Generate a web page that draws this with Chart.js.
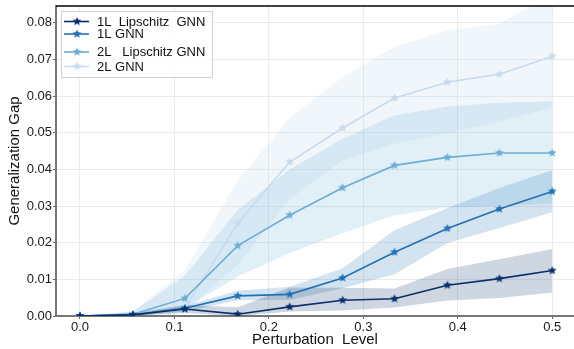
<!DOCTYPE html>
<html>
<head>
<meta charset="utf-8">
<script src="https://cdn.jsdelivr.net/npm/chart.js@4"></script>
<style>
  html, body { margin: 0; padding: 0; background: #fff; overflow: hidden; }
  #wrap { width: 574px; height: 349px; position: relative; }
  #gapChart { display: block; }
</style>
</head>
<body>
<div id="wrap"><canvas id="gapChart"></canvas></div>
<script>
// ---------- DATA ----------
const perturbation = [0, 0.056, 0.111, 0.167, 0.222, 0.278, 0.333, 0.389, 0.444, 0.5];

const xTickValues = [0, 0.1, 0.2, 0.3, 0.4, 0.5];
const xTickLabels = ["0.0", "0.1", "0.2", "0.3", "0.4", "0.5"];
const yTickValues = [0, 0.01, 0.02, 0.03, 0.04, 0.05, 0.06, 0.07, 0.08];
const yTickLabels = ["0.00", "0.01", "0.02", "0.03", "0.04", "0.05", "0.06", "0.07", "0.08"];

const seriesNames = ["1L  Lipschitz  GNN", "1L GNN", "2L   Lipschitz GNN", "2L GNN"];

// mean curves
const lip1Mean = [0, 0.0003, 0.0019, 0.0005, 0.0025, 0.0043, 0.0047, 0.0084, 0.0102, 0.0124];
const gnn1Mean = [0, 0.0003, 0.0021, 0.0055, 0.0059, 0.0104, 0.0174, 0.0239, 0.0292, 0.034];
const lip2Mean = [0, 0.0005, 0.0048, 0.0192, 0.0275, 0.035, 0.0411, 0.0433, 0.0445, 0.0445];
const gnn2Mean = [0, 0.0003, 0.002, 0.0253, 0.042, 0.0513, 0.0595, 0.0638, 0.066, 0.0709];

// shaded bands (low / high)
const lip1Low  = [0, 0, 0.0008, 0, 0.0012, 0.0015, 0.0023, 0.0042, 0.0049, 0.0064];
const lip1High = [0, 0.0008, 0.003, 0.0024, 0.0078, 0.0077, 0.0075, 0.0128, 0.0155, 0.0183];
const gnn1Low  = [0, 0, 0.0012, 0.0043, 0.0044, 0.0076, 0.0114, 0.0199, 0.024, 0.0283];
const gnn1High = [0, 0.0006, 0.0027, 0.0069, 0.008, 0.013, 0.0234, 0.0295, 0.0349, 0.0398];
const lip2Low  = [0, 0, 0.002, 0.0108, 0.0172, 0.0226, 0.0275, 0.0296, 0.03, 0.0308];
const lip2High = [0, 0.0012, 0.011, 0.029, 0.04, 0.0484, 0.0548, 0.0572, 0.0582, 0.0586];
const gnn2Low  = [0, 0, 0.0012, 0.014, 0.032, 0.0425, 0.047, 0.05, 0.053, 0.057];
const gnn2High = [0, 0.0012, 0.0125, 0.037, 0.0541, 0.0652, 0.0734, 0.078, 0.0797, 0.088];

// ---------- STYLE ----------
const colors = ["#08306b", "#2171b5", "#6baed6", "#c6dbef"];
const bandColors = [
    "rgba(8, 48, 107, 0.2)",
    "rgba(33, 113, 181, 0.2)",
    "rgba(107, 174, 214, 0.2)",
    "rgba(198, 219, 239, 0.25)"
];
const FONT = "'Liberation Sans', Arial, sans-serif";

// filled five point star as point image
function makeStar(color, r) {
    const c = document.createElement("canvas");
    const s = Math.ceil(r * 2 + 2);
    c.width = s;
    c.height = s;
    const g = c.getContext("2d");
    g.fillStyle = color;
    g.beginPath();
    for (let i = 0; i < 10; i++) {
        const rad = i % 2 === 0 ? r : r * 0.45;
        const a = -Math.PI / 2 + i * Math.PI / 5;
        const px = s / 2 + rad * Math.cos(a);
        const py = s / 2 + rad * Math.sin(a);
        if (i === 0) g.moveTo(px, py); else g.lineTo(px, py);
    }
    g.closePath();
    g.fill();
    return c;
}
const stars = colors.map(c => makeStar(c, 4.6));

const toPoints = arr => arr.map((v, i) => ({ x: perturbation[i], y: v }));

const means = [lip1Mean, gnn1Mean, lip2Mean, gnn2Mean];
const lows = [lip1Low, gnn1Low, lip2Low, gnn2Low];
const highs = [lip1High, gnn1High, lip2High, gnn2High];

// ---------- DATASETS ----------
const datasets = [];

// lines first so they sit on top of the bands
means.forEach((m, i) => {
    datasets.push({
        label: seriesNames[i],
        data: toPoints(m),
        borderColor: colors[i],
        borderWidth: 1.6,
        pointStyle: stars[i],
        pointRadius: 4,
        fill: false,
        isMain: true,
        starImg: stars[i]
    });
});

// bands: low edge, then high edge filled down to it
means.forEach((m, i) => {
    const lowIndex = datasets.length;
    datasets.push({
        label: "low" + i,
        data: toPoints(lows[i]),
        borderWidth: 0,
        pointRadius: 0,
        fill: false
    });
    datasets.push({
        label: "high" + i,
        data: toPoints(highs[i]),
        borderWidth: 0,
        pointRadius: 0,
        backgroundColor: bandColors[i],
        fill: lowIndex
    });
});

// ---------- PLUGINS ----------
const frameAndLegend = {
    id: "frameAndLegend",
    afterDraw(chart) {
        const { ctx, chartArea } = chart;
        ctx.save();

        // top frame line
        ctx.strokeStyle = "#000";
        ctx.lineWidth = 1.5;
        ctx.beginPath();
        ctx.moveTo(chartArea.left, chartArea.top);
        ctx.lineTo(chartArea.right, chartArea.top);
        ctx.stroke();

        // legend box
        const bx = chartArea.left + 5;
        const by = chartArea.top + 5;
        const bw = 151;
        const bh = 66;
        ctx.fillStyle = "rgba(255,255,255,0.85)";
        ctx.strokeStyle = "#d0d0d0";
        ctx.lineWidth = 1;
        ctx.fillRect(bx, by, bw, bh);
        ctx.strokeRect(bx + 0.5, by + 0.5, bw, bh);

        const rows = [10.5, 23, 41, 55.5];
        const mains = chart.data.datasets.filter(d => d.isMain);
        ctx.font = "13px " + FONT;
        ctx.textBaseline = "middle";
        mains.forEach((d, i) => {
            const y = by + rows[i];
            ctx.strokeStyle = d.borderColor;
            ctx.lineWidth = 1.6;
            ctx.beginPath();
            ctx.moveTo(bx + 3, y);
            ctx.lineTo(bx + 28, y);
            ctx.stroke();
            const img = d.starImg;
            ctx.drawImage(img, bx + 16 - img.width / 2, y - img.height / 2);
            ctx.fillStyle = "#111";
            ctx.fillText(d.label, bx + 36, y + 0.5);
        });

        ctx.restore();
    }
};

// ---------- CHART ----------
new Chart(document.getElementById("gapChart"), {
    type: "line",
    data: { datasets },
    plugins: [frameAndLegend],
    options: {
        responsive: true,
        maintainAspectRatio: false,
        animation: false,
        layout: {
            autoPadding: false,
            padding: { top: 6, right: 0, left: 0, bottom: 0 }
        },
        elements: { line: { tension: 0 } },
        plugins: {
            legend: { display: false },
            tooltip: { enabled: false },
            filler: { propagate: false }
        },
        scales: {
            x: {
                type: "linear",
                min: -0.0254,
                max: 0.523,
                afterBuildTicks(scale) {
                    scale.ticks = xTickValues.map(v => ({ value: v }));
                },
                afterFit(scale) {
                    scale.height = 33;
                    scale.paddingLeft = 0;
                    scale.paddingRight = 0;
                },
                grid: {
                    color: "#ebebeb",
                    lineWidth: 1,
                    tickLength: 3,
                    tickColor: "#666"
                },
                border: { color: "#777", width: 2 },
                ticks: {
                    padding: 1,
                    color: "#1a1a1a",
                    font: { family: FONT, size: 13 },
                    callback(value) {
                        const k = xTickValues.findIndex(v => Math.abs(v - value) < 1e-9);
                        return k >= 0 ? xTickLabels[k] : "";
                    }
                },
                title: {
                    display: true,
                    text: "Perturbation  Level",
                    color: "#111",
                    font: { family: FONT, size: 15 },
                    padding: { top: 0, bottom: 0 }
                }
            },
            y: {
                type: "linear",
                min: 0,
                max: 0.0846,
                afterBuildTicks(scale) {
                    scale.ticks = yTickValues.map(v => ({ value: v }));
                },
                afterFit(scale) {
                    scale.width = 56;
                    scale.paddingTop = 0;
                    scale.paddingBottom = 0;
                },
                grid: {
                    color: "#ebebeb",
                    lineWidth: 1,
                    tickLength: 3,
                    tickColor: "#666"
                },
                border: { color: "#777", width: 2 },
                ticks: {
                    padding: 1,
                    color: "#1a1a1a",
                    font: { family: FONT, size: 13 },
                    callback(value) {
                        const k = yTickValues.findIndex(v => Math.abs(v - value) < 1e-9);
                        return k >= 0 ? yTickLabels[k] : "";
                    }
                },
                title: {
                    display: true,
                    text: "Generalization Gap",
                    color: "#111",
                    font: { family: FONT, size: 15 },
                    padding: { top: 6, bottom: 0 }
                }
            }
        }
    }
});
</script>
</body>
</html>
